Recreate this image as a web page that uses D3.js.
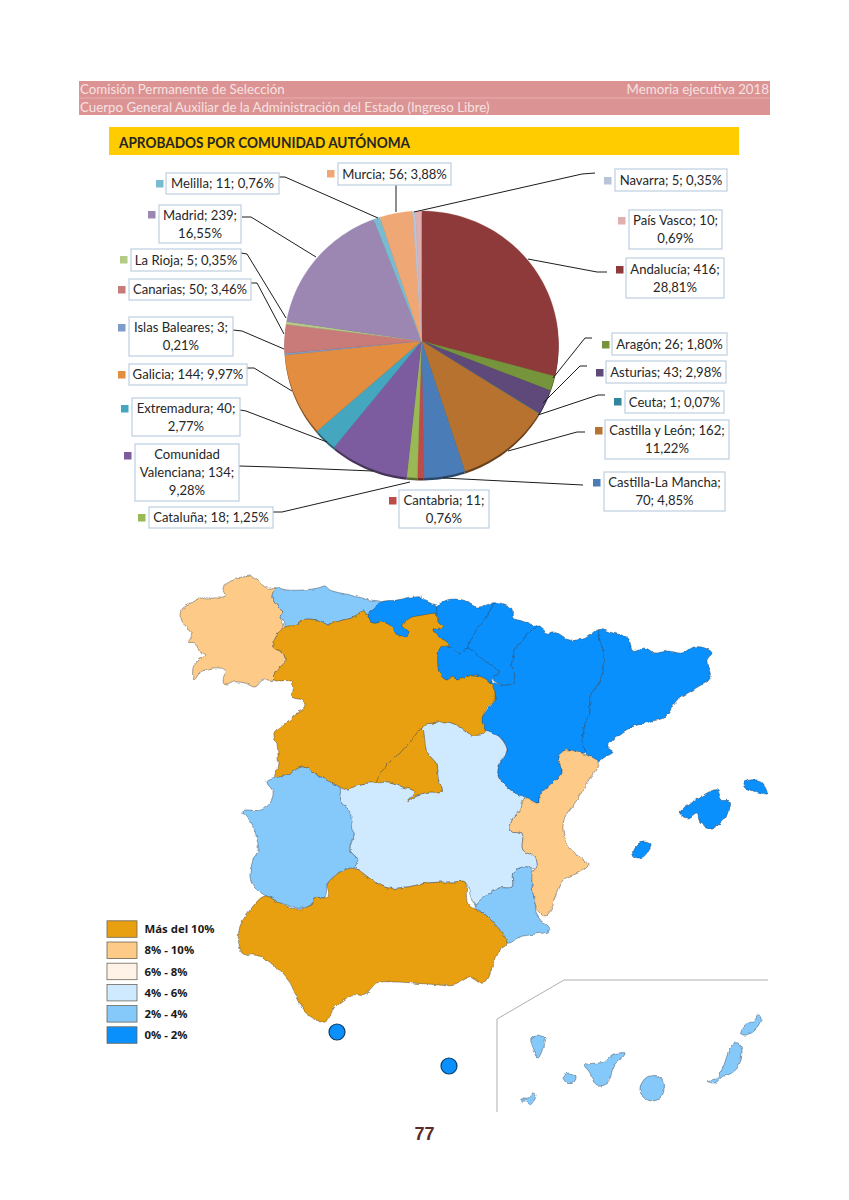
<!DOCTYPE html>
<html lang="es">
<head>
<meta charset="utf-8">
<title>Aprobados por comunidad autónoma</title>
<script src="https://cdn.jsdelivr.net/npm/d3@7"></script>
<style>
  html, body { margin: 0; background: #fff; }
  svg { display: block; }
  text { font-family: Lato, "Open Sans", sans-serif; }
  .box { fill: #fff; stroke: #bccfe2; stroke-width: 1.2; }
  .leader { fill: none; stroke: #1c1c1c; stroke-width: 1; }
  .lab { font-size: 13.1px; fill: #262626; text-anchor: middle; }
  .region { stroke: #2c3640; stroke-width: 0.6; stroke-opacity: 0.7; }
  .legtext { font-family: "Open Sans", sans-serif; font-weight: 700; font-size: 11.4px; fill: #1a1a1a; }
</style>
</head>
<body>
<div id="chart"></div>
<script>
// Data, in pie order
const regions = ['Andalucía', 'Aragón', 'Asturias', 'Ceuta', 'Castilla y León', 'Castilla-La Mancha',
  'Cantabria', 'Cataluña', 'Comunidad Valenciana', 'Extremadura', 'Galicia', 'Islas Baleares',
  'Canarias', 'La Rioja', 'Madrid', 'Melilla', 'Murcia', 'Navarra', 'País Vasco'];
const approved = [416, 26, 43, 1, 162, 70, 11, 18, 134, 40, 144, 3, 50, 5, 239, 11, 56, 5, 10];
const sliceColors = ['#8e3a3a', '#76943c', '#5f497a', '#31859c', '#b8722f', '#4a7db8',
  '#bd4b48', '#98b954', '#7c5c9e', '#45a6c0', '#e28d40', '#7d9dc8',
  '#c87b79', '#b3cb85', '#9b87b1', '#79bbd0', '#efa875', '#b8c5d8', '#e0b0b0'];
// how many words go on each line of a data label
const labelLines = [[2, 1], [3], [3], [3], [4, 1], [2, 2], [2, 1], [3], [1, 2, 1], [2, 1], [3], [3, 1],
  [3], [4], [2, 1], [3], [3], [3], [3, 1]];

const legendLabels = ['Más del 10%', '8% - 10%', '6% - 8%', '4% - 6%', '2% - 4%', '0% - 2%'];
const legendColors = ['#e9a010', '#fdcb87', '#fef3e6', '#cfe9ff', '#85c8fa', '#0a90fc'];
const legendBreaks = [2, 4, 6, 8, 10];

// Label boxes [x0, x1, y0, y1], swatch corner [x, y], leader line, all as read from the page
const labelBoxes = [
  [626, 724, 258, 298], [612, 727, 333, 355], [606, 726, 361, 383], [625, 724, 391, 413],
  [605, 729, 420, 459], [604, 725, 472, 511], [399, 489, 490, 528], [149, 273, 507, 528],
  [135, 239, 444, 501], [132, 240, 398, 436], [129, 247, 364, 385], [129, 233, 317, 356],
  [129, 251, 279, 300], [131, 241, 249, 271], [159, 241, 205, 243], [166, 279, 173, 194],
  [338, 451, 163, 185], [615, 727, 169, 191], [629, 722, 210, 249]];
const swatchCorners = [
  [616, 266], [602, 341], [596, 369], [614, 398], [595, 427], [593, 479], [389, 497], [138, 514],
  [124, 452], [121, 405], [118, 371], [118, 324], [118, 286], [120, 256], [148, 211], [156, 180],
  [327, 170], [604, 177], [618, 217]];
const leaderLines = [
  [[528, 259], [597, 272], [607, 272]], [[553, 378], [585, 338], [592, 338]],
  [[543, 403], [580, 366], [587, 366]], [[538, 415], [598, 395], [605, 395]],
  [[508, 451], [577, 432], [585, 432]], [[443, 478], [583, 485]], [],
  [[410, 482], [282, 512], [273, 512]], [[373, 471], [273, 467], [239, 466]],
  [[327, 442], [246, 411], [240, 410]], [[292, 391], [254, 368], [247, 368]],
  [[284, 349], [242, 331], [233, 330]], [[284, 334], [257, 283], [251, 283]],
  [[286, 318], [247, 254], [241, 253]], [[316, 257], [251, 217], [242, 217]],
  [[378, 218], [285, 177], [279, 177]], [[396, 212], [396, 185]],
  [[414, 212], [582, 174], [595, 173]], []];

const galicia = [[180,615],[183,608],[195,602],[200,597],[207,599],[213,598],[225,597],[223,588],[233,580],[242,578],[250,575],[257,580],[267,588],[276,588],[272,597],[278,607],[283,612],[280,618],[283,627],[276,637],[273,647],[283,653],[285,662],[275,672],[274,680],[263,680],[255,687],[245,683],[235,682],[225,685],[223,680],[225,670],[213,668],[200,673],[194,680],[193,668],[198,660],[206,655],[200,652],[195,643],[188,642],[192,633],[187,628],[182,620]];
const asturias = [[276,588],[287,590],[303,590],[318,588],[325,586],[330,590],[350,595],[370,600],[381,602],[373,610],[367,615],[363,611],[355,617],[343,620],[328,624],[317,620],[302,620],[297,625],[285,627],[283,620],[280,618],[283,612],[278,607],[272,597]];
const cantabria = [[367,615],[373,610],[381,602],[397,600],[410,597],[420,596],[428,603],[437,607],[437,625],[410,635],[395,640],[385,630],[373,625]];
const paisVasco = [[437,607],[447,600],[463,600],[477,607],[495,603],[487,617],[475,632],[468,648],[460,653],[450,647],[440,648],[433,630],[437,615]];
const navarra = [[495,603],[507,605],[512,609],[513,618],[522,621],[537,627],[538,629],[528,638],[517,647],[512,663],[515,682],[502,685],[492,678],[500,672],[483,660],[468,648],[475,632],[487,617]];
const laRioja = [[440,646],[450,647],[460,653],[468,648],[483,660],[500,672],[492,678],[492,686],[482,680],[470,678],[457,683],[447,683],[437,672]];
const aragon = [[538,627],[548,633],[557,633],[570,640],[585,638],[598,630],[600,639],[603,650],[602,677],[590,697],[590,710],[583,733],[585,752],[580,753],[566,750],[558,757],[562,773],[552,783],[540,795],[538,803],[525,798],[513,792],[498,775],[500,763],[507,750],[497,735],[480,730],[482,718],[487,710],[495,697],[490,682],[502,685],[515,682],[512,663],[517,647]];
const cataluna = [[598,630],[613,633],[628,638],[633,651],[645,648],[655,653],[668,651],[682,653],[693,647],[705,648],[712,653],[707,660],[710,677],[693,690],[677,700],[665,717],[643,723],[623,732],[608,747],[613,752],[605,757],[597,762],[585,752],[583,733],[590,710],[590,697],[602,677],[603,650]];
const castillaLeon = [[285,627],[297,625],[302,620],[317,620],[328,624],[343,620],[355,617],[363,611],[367,615],[373,623],[383,622],[392,627],[397,635],[405,637],[409,632],[403,627],[410,618],[423,615],[437,614],[438,622],[443,627],[433,630],[440,637],[448,645],[440,648],[439,672],[447,680],[453,675],[457,680],[470,675],[482,677],[492,685],[495,698],[487,708],[482,720],[485,733],[472,735],[462,728],[448,722],[433,723],[422,728],[410,742],[400,753],[387,765],[377,782],[367,783],[357,785],[348,790],[340,787],[330,782],[317,775],[303,767],[287,775],[275,778],[278,765],[277,745],[274,733],[283,725],[293,717],[305,705],[302,700],[292,697],[292,682],[274,680],[275,672],[285,662],[283,653],[273,647],[276,637]];
const madrid = [[422,728],[427,752],[437,765],[438,778],[442,792],[430,792],[418,795],[407,802],[415,792],[403,787],[390,782],[377,782],[387,765],[400,753],[410,742]];
const castillaMancha = [[433,723],[448,722],[462,728],[472,735],[480,730],[497,735],[507,750],[500,763],[498,775],[513,792],[525,798],[520,810],[510,823],[512,832],[522,833],[523,850],[535,857],[537,867],[523,867],[513,873],[512,887],[498,888],[487,895],[475,905],[465,882],[455,882],[428,883],[407,887],[388,888],[375,882],[358,870],[355,867],[358,860],[350,850],[353,835],[342,815],[340,802],[340,788],[348,790],[357,785],[367,783],[377,782],[390,782],[403,787],[415,792],[407,802],[418,795],[430,792],[442,792],[438,778],[437,765],[427,752],[422,728]];
const extremadura = [[275,778],[287,775],[303,767],[317,775],[330,782],[340,788],[340,802],[348,808],[352,823],[353,835],[350,850],[358,860],[355,867],[345,872],[328,883],[325,897],[315,898],[312,905],[298,908],[288,905],[278,902],[268,897],[255,888],[250,878],[253,860],[258,850],[256,835],[252,825],[243,811],[261,810],[270,803],[273,792],[267,782]];
const andalucia = [[239,930],[250,910],[265,896],[278,902],[298,909],[312,905],[315,898],[328,897],[328,883],[352,868],[375,882],[388,888],[407,887],[428,883],[455,882],[465,882],[468,903],[488,917],[507,943],[500,950],[495,960],[483,983],[468,977],[455,985],[428,984],[395,982],[378,983],[365,995],[352,995],[335,1007],[325,1022],[305,1012],[295,993],[288,980],[262,957],[242,952]];
const murcia = [[475,907],[487,895],[500,888],[512,887],[513,873],[523,867],[533,870],[532,883],[535,903],[537,915],[549,931],[535,934],[520,937],[507,943],[488,917]];
const valencia = [[566,750],[580,753],[598,762],[587,783],[577,800],[565,817],[563,830],[568,847],[588,865],[580,872],[563,880],[555,897],[551,910],[545,916],[538,911],[535,903],[532,883],[533,870],[537,867],[535,857],[523,850],[522,833],[512,832],[510,823],[520,810],[525,798],[538,803],[540,795],[552,783],[562,773],[558,757]];
const mallorca = [[680,813],[688,818],[697,813],[700,823],[713,828],[728,813],[730,801],[722,800],[717,790],[707,793]];
const menorca = [[743,783],[757,780],[765,787],[767,794],[758,792],[745,788]];
const ibiza = [[633,850],[643,842],[651,845],[643,857],[634,857]];
const laPalma = [[531,1038],[537,1035],[545,1038],[543,1048],[538,1058],[534,1050]];
const gomera = [[563,1077],[568,1073],[576,1077],[573,1083],[567,1083]];
const hierro = [[522,1098],[528,1098],[533,1093],[536,1096],[530,1105],[527,1101],[522,1101]];
const tenerife = [[585,1065],[603,1062],[612,1055],[625,1053],[623,1057],[615,1063],[608,1082],[597,1086],[590,1073]];
const granCanaria = [[647,1077],[660,1077],[664,1090],[660,1098],[652,1101],[643,1097],[640,1088]];
const fuerteventura = [[707,1081],[717,1078],[723,1067],[732,1045],[738,1043],[742,1050],[738,1067],[730,1074],[722,1077],[715,1083]];
const lanzarote = [[740,1033],[745,1025],[755,1020],[758,1015],[761,1018],[758,1027],[747,1035]];
const ceutaPoint = [337, 1032];
const melillaPoint = [449, 1066];
const insetFrame = [[497,1112],[497,1019],[564,980],[768,980]];

// Draw order matters: the blue north goes under Castilla y León
const mapShapes = [
  ['Galicia', [galicia]], ['Asturias', [asturias]], ['Cantabria', [cantabria]], ['País Vasco', [paisVasco]],
  ['Navarra', [navarra]], ['La Rioja', [laRioja]], ['Aragón', [aragon]], ['Cataluña', [cataluna]],
  ['Castilla-La Mancha', [castillaMancha]], ['Castilla y León', [castillaLeon]], ['Madrid', [madrid]],
  ['Extremadura', [extremadura]], ['Murcia', [murcia]], ['Comunidad Valenciana', [valencia]], ['Andalucía', [andalucia]],
  ['Islas Baleares', [mallorca, menorca, ibiza]],
  ['Canarias', [laPalma, gomera, hierro, tenerife, granCanaria, fuerteventura, lanzarote]]
];

const width = 849, height = 1200;
const total = d3.sum(approved);
const pctOf = i => approved[i] / total * 100;
const pctText = i => pctOf(i).toFixed(2).replace('.', ',');

const svg = d3.select('#chart').append('svg')
    .attr('width', width)
    .attr('height', height);

// rough coastline, the traced outlines are too clean on their own
const rough = svg.append('defs').append('filter')
    .attr('id', 'rough')
    .attr('filterUnits', 'userSpaceOnUse')
    .attr('x', 150).attr('y', 560).attr('width', 640).attr('height', 560)
    .attr('color-interpolation-filters', 'sRGB');
rough.append('feTurbulence')
    .attr('type', 'fractalNoise')
    .attr('baseFrequency', 0.16)
    .attr('numOctaves', 2)
    .attr('seed', 4)
    .attr('result', 'noise');
rough.append('feDisplacementMap')
    .attr('in', 'SourceGraphic')
    .attr('in2', 'noise')
    .attr('scale', 4)
    .attr('xChannelSelector', 'R')
    .attr('yChannelSelector', 'G');

// Page header
svg.append('rect').attr('x', 79).attr('y', 81).attr('width', 691).attr('height', 34).attr('fill', '#dc9393');
svg.append('line').attr('x1', 79).attr('x2', 770).attr('y1', 98).attr('y2', 98).attr('stroke', '#eebcbc').attr('stroke-width', 0.7);
const headerColor = '#f6e2e2';
svg.append('text').attr('x', 80).attr('y', 94).attr('font-size', 13.3).attr('fill', headerColor).text('Comisión Permanente de Selección');
svg.append('text').attr('x', 769).attr('y', 94).attr('font-size', 13.3).attr('fill', headerColor).attr('text-anchor', 'end').text('Memoria ejecutiva 2018');
svg.append('text').attr('x', 80).attr('y', 112).attr('font-size', 13.3).attr('fill', headerColor).text('Cuerpo General Auxiliar de la Administración del Estado (Ingreso Libre)');

// Chart title bar
svg.append('rect').attr('x', 109).attr('y', 127).attr('width', 630).attr('height', 28).attr('fill', '#ffcc00');
svg.append('text').attr('x', 119).attr('y', 148).attr('font-size', 15).attr('font-weight', 700).attr('fill', '#262626')
    .attr('textLength', 291)
    .attr('lengthAdjust', 'spacingAndGlyphs')
    .text('APROBADOS POR COMUNIDAD AUTÓNOMA');

// Pie: the apex sits a little above the centre of the ellipse, as in the tilted original
const pieGeom = { cx: 421.5, apexY: 341, cy: 344.5, rx: 137, ry: 133.5 };
const wedge = d => {
  const steps = d3.range(0, 1.0001, 1 / Math.max(2, Math.ceil((d.endAngle - d.startAngle) * 30)));
  const outer = steps.map(t => {
    const a = d.startAngle + (d.endAngle - d.startAngle) * t;
    return [pieGeom.cx + pieGeom.rx * Math.sin(a), pieGeom.cy - pieGeom.ry * Math.cos(a)];
  });
  return d3.line()([[pieGeom.cx, pieGeom.apexY], ...outer]) + 'Z';
};
const pieData = d3.pie().sort(null)(approved);

// dark rim under the lower half
svg.append('g').attr('transform', 'translate(0,2.5)')
  .selectAll('path').data(pieData).join('path')
    .attr('d', wedge)
    .attr('fill', (d, i) => d3.color(sliceColors[i]).darker(1.6));
svg.append('g').selectAll('path').data(pieData).join('path')
    .attr('d', wedge)
    .attr('fill', (d, i) => sliceColors[i])
    .attr('stroke', (d, i) => sliceColors[i])
    .attr('stroke-width', 0.3);

// Leader lines
svg.append('g').selectAll('path').data(leaderLines.filter(l => l.length)).join('path')
    .attr('class', 'leader')
    .attr('d', d3.line());

// Data labels
const labels = svg.append('g').selectAll('g').data(regions).join('g');
labels.append('rect')
    .attr('class', 'box')
    .attr('x', (d, i) => labelBoxes[i][0])
    .attr('y', (d, i) => labelBoxes[i][2])
    .attr('width', (d, i) => labelBoxes[i][1] - labelBoxes[i][0])
    .attr('height', (d, i) => labelBoxes[i][3] - labelBoxes[i][2]);
labels.append('rect')
    .attr('x', (d, i) => swatchCorners[i][0])
    .attr('y', (d, i) => swatchCorners[i][1])
    .attr('width', 7.5)
    .attr('height', 7.5)
    .attr('fill', (d, i) => sliceColors[i]);
labels.each(function (d, i) {
  const words = `${d}; ${approved[i]}; ${pctText(i)}%`.split(' ');
  const box = labelBoxes[i];
  const midX = (box[0] + box[1]) / 2, midY = (box[2] + box[3]) / 2;
  const n = labelLines[i].length;
  let used = 0;
  labelLines[i].forEach((count, k) => {
    d3.select(this).append('text')
        .attr('class', 'lab')
        .attr('x', midX)
        .attr('y', midY + (k - (n - 1) / 2) * 17.8 + 4.6)
        .text(words.slice(used, used + count).join(' '));
    used += count;
  });
});

// Map
const colorScale = d3.scaleThreshold()
    .domain(legendBreaks)
    .range(legendColors.slice().reverse());
const ringPath = d3.line().curve(d3.curveCatmullRomClosed.alpha(0.5));
const pointPath = d3.geoPath(d3.geoIdentity()).pointRadius(8);

svg.append('g').attr('filter', 'url(#rough)')
  .selectAll('path').data(mapShapes).join('path')
    .attr('class', 'region')
    .attr('d', d => d[1].map(ringPath).join(''))
    .attr('fill', d => colorScale(pctOf(regions.indexOf(d[0]))));

svg.append('g').selectAll('path').data([['Ceuta', ceutaPoint], ['Melilla', melillaPoint]]).join('path')
    .attr('d', d => pointPath({ type: 'Point', coordinates: d[1] }))
    .attr('fill', d => colorScale(pctOf(regions.indexOf(d[0]))))
    .attr('stroke', '#0d3a66')
    .attr('stroke-width', 1.2);

svg.append('path')
    .attr('d', d3.line()(insetFrame))
    .attr('fill', 'none')
    .attr('stroke', '#9a9a9a')
    .attr('stroke-width', 0.8);

// Map legend
const legendY = d3.scaleBand().domain(legendLabels).range([919.3, 1046.5]);
const legend = svg.append('g').selectAll('g').data(legendLabels).join('g');
legend.append('rect')
    .attr('x', 107)
    .attr('y', d => legendY(d) + 1.5)
    .attr('width', 30)
    .attr('height', 16.5)
    .attr('fill', (d, i) => legendColors[i])
    .attr('stroke', '#6d6658')
    .attr('stroke-width', 0.8);
legend.append('text')
    .attr('class', 'legtext')
    .attr('x', 144.5)
    .attr('y', d => legendY(d) + 13.8)
    .text(d => d);

// Page number
svg.append('text')
    .attr('x', 424.5)
    .attr('y', 1140)
    .attr('text-anchor', 'middle')
    .attr('font-size', 18)
    .attr('font-weight', 700)
    .attr('fill', '#5b2b2b')
    .style('font-family', '"Liberation Sans", Arial, sans-serif')
    .text('77');
</script>
</body>
</html>
